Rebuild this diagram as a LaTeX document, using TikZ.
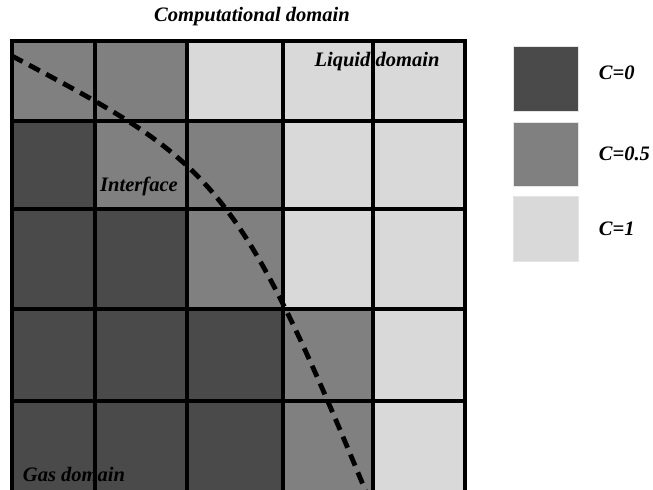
\documentclass[tikz,border=0pt]{standalone}
\usepackage{fontspec}
\setmainfont{Liberation Serif}
\usetikzlibrary{positioning}

\definecolor{gasfill}{HTML}{4A4A4A}
\definecolor{halffill}{HTML}{808080}
\definecolor{liqfill}{HTML}{D9D9D9}

\begin{document}
\begin{tikzpicture}[x=0.75pt,y=-0.75pt,
    lbl/.style={font=\fontsize{15.4}{18}\selectfont\bfseries\itshape, inner sep=0pt},
    keybox/.style={minimum size=48.5pt, inner sep=0pt, draw=white!90!black, line width=0.4pt},
    gridline/.style={line width=3pt, line cap=rect},
    interface/.style={line width=3.6pt, dash pattern=on 9pt off 5.5pt}]
       \useasboundingbox (0,0) rectangle (653,489);
       \def\xs{{12,95,187,283,373,465}}
       \def\ys{{41,121,209,309,401,497}}

       % volume fraction of each cell
       \foreach \r/\row in {0/{halffill,halffill,liqfill,liqfill,liqfill},
                            1/{gasfill,halffill,halffill,liqfill,liqfill},
                            2/{gasfill,gasfill,halffill,liqfill,liqfill},
                            3/{gasfill,gasfill,gasfill,halffill,liqfill},
                            4/{gasfill,gasfill,gasfill,halffill,liqfill}} {
         \foreach \c [count=\i from 0] in \row {
           \pgfmathsetmacro\xa{\xs[\i]}
           \pgfmathsetmacro\xb{\xs[\i+1]}
           \pgfmathsetmacro\ya{\ys[\r]}
           \pgfmathsetmacro\yb{\ys[\r+1]}
           \fill[\c] (\xa,\ya) rectangle (\xb,\yb);
         }
       }

       \node[lbl] (title) at (252,17) {Computational domain};
       \node[lbl] (liquid) at (377,62) {Liquid domain};
       \node[lbl] (iface) at (139,186) {Interface};
       \node[lbl] (gas) at (74,474) {Gas domain};

       % mesh
       \foreach \i in {0,...,5} {
         \pgfmathsetmacro\gx{\xs[\i]}
         \pgfmathsetmacro\gy{\ys[\i]}
         \draw[gridline] (\gx,41) -- (\gx,497);
         \draw[gridline] (12,\gy) -- (465,\gy);
       }

       \draw[interface] (12,56) .. controls (212,162) and (236,177) .. (366,492);

       % legend
       \node[keybox, fill=gasfill] (k0) at (546,79) {};
       \node[keybox, fill=halffill] (k05) [below=7.5pt of k0] {};
       \node[keybox, fill=liqfill] (k1) [below=7pt of k05] {};
       \node[lbl, anchor=west] (c0) at ([xshift=15pt,yshift=5pt]k0.east) {C=0};
       \node[lbl, anchor=west] (c05) at ([xshift=15pt]k05.east) {C=0.5};
       \node[lbl, anchor=west] (c1) at ([xshift=15pt]k1.east) {C=1};
\end{tikzpicture}
\end{document}
